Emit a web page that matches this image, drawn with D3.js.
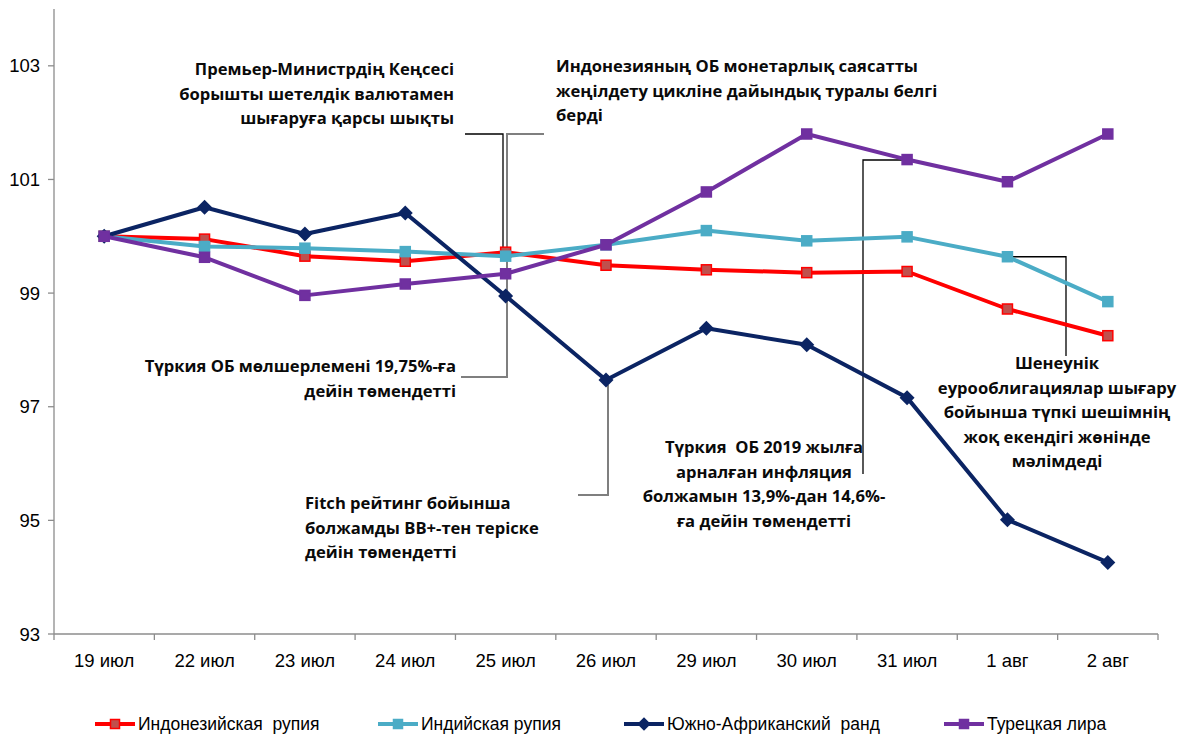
<!DOCTYPE html>
<html>
<head>
<meta charset="utf-8">
<script src="https://cdn.jsdelivr.net/npm/d3@7/dist/d3.min.js"></script>
<style>
  html, body { margin: 0; padding: 0; background: #fff; }
  svg { display: block; }
  .tick-label { font-family: "Liberation Sans", Arial, sans-serif; font-size: 18.5px; fill: #000; }
  .legend-label { font-family: "Liberation Sans", Arial, sans-serif; font-size: 17.5px; fill: #000; white-space: pre; }
  .note { font-family: "Open Sans", "Noto Sans", sans-serif; font-weight: 700; font-size: 16.6px; fill: #0a0a0a; white-space: pre; }
</style>
</head>
<body>
<svg id="chart" width="1188" height="740"></svg>
<script>
// ---------- data ----------
const categories = ["19 июл", "22 июл", "23 июл", "24 июл", "25 июл", "26 июл", "29 июл", "30 июл", "31 июл", "1 авг", "2 авг"];
const indonesianRupiah = [100, 99.95, 99.65, 99.56, 99.72, 99.49, 99.41, 99.36, 99.38, 98.72, 98.25];
const indianRupee      = [100, 99.82, 99.79, 99.73, 99.65, 99.85, 100.10, 99.92, 99.99, 99.64, 98.85];
const southAfricanRand = [100, 100.51, 100.04, 100.41, 98.95, 97.47, 98.38, 98.09, 97.16, 95.01, 94.26];
const turkishLira      = [100, 99.63, 98.96, 99.16, 99.34, 99.85, 100.78, 101.80, 101.35, 100.96, 101.80];
const seriesNames = ["Индонезийская  рупия", "Индийская рупия", "Южно-Африканский  ранд", "Турецкая лира"];
const yTicks = [93, 95, 97, 99, 101, 103];

const notes = [
  { lines: ["Премьер-Министрдің Кеңсесі", "борышты шетелдік валютамен", "шығаруға қарсы шықты"], anchor: "end" },
  { lines: ["Индонезияның ОБ монетарлық саясатты", "жеңілдету цикліне дайындық туралы белгі", "берді"], anchor: "start" },
  { lines: ["Түркия ОБ мөлшерлемені 19,75%-ға", "дейін төмендетті"], anchor: "end" },
  { lines: ["Fitch рейтинг бойынша", "болжамды BB+-тен теріске", "дейін төмендетті"], anchor: "start" },
  { lines: ["Түркия  ОБ 2019 жылға", "арналған инфляция", "болжамын 13,9%-дан 14,6%-", "ға дейін төмендетті"], anchor: "middle" },
  { lines: ["Шенеунік", "еурооблигациялар шығару", "бойынша түпкі шешімнің", "жоқ екендігі жөнінде", "мәлімдеді"], anchor: "middle" }
];

// ---------- layout ----------
const notePos = [
  { x: 454, y: 75 },
  { x: 556, y: 72 },
  { x: 456, y: 372 },
  { x: 305, y: 509 },
  { x: 764, y: 453 },
  { x: 1057, y: 369 }
];
const lineGap = 24.5;

const svg = d3.select("#chart");
const x = d3.scaleBand().domain(categories).range([54, 1158]).padding(0);
const y = d3.scaleLinear().domain([93, 104]).range([634, 9]);
const cx = c => x(c) + x.bandwidth() / 2;

const seriesData = [
  { name: seriesNames[0], values: indonesianRupiah, color: "#ff0000", fill: "#c0504d", marker: "square" },
  { name: seriesNames[1], values: indianRupee, color: "#4bacc6", fill: "#4bacc6", marker: "square" },
  { name: seriesNames[2], values: southAfricanRand, color: "#0b2463", fill: "#0b2463", marker: "diamond" },
  { name: seriesNames[3], values: turkishLira, color: "#7030a0", fill: "#7030a0", marker: "square" }
];

// axes
const axisColor = "#8c8c8c";
svg.append("line").attr("x1", 54).attr("x2", 54).attr("y1", y(104)).attr("y2", y(93)).attr("stroke", axisColor).attr("stroke-width", 1.3);
svg.append("line").attr("x1", 54).attr("x2", 1158).attr("y1", y(93)).attr("y2", y(93)).attr("stroke", axisColor).attr("stroke-width", 1.3);
yTicks.forEach(t => {
  svg.append("line").attr("x1", 48).attr("x2", 54).attr("y1", y(t)).attr("y2", y(t)).attr("stroke", axisColor).attr("stroke-width", 1.3);
  svg.append("text").attr("class", "tick-label").attr("x", 40).attr("y", y(t)).attr("dy", "0.36em").attr("text-anchor", "end").text(t);
});
const bounds = categories.map(c => x(c)).concat([x(categories[categories.length - 1]) + x.bandwidth()]);
bounds.forEach(b => {
  svg.append("line").attr("x1", b).attr("x2", b).attr("y1", y(93)).attr("y2", y(93) + 6).attr("stroke", axisColor).attr("stroke-width", 1.3);
});
categories.forEach(c => {
  svg.append("text").attr("class", "tick-label").attr("x", cx(c)).attr("y", 667).attr("text-anchor", "middle").text(c);
});

// callout lines (behind series)
const grey = "#7f7f7f";
const callouts = [
  { pts: [[544, 134], [507, 134], [507, 377], [461, 377]], color: grey, w: 2 },
  { pts: [[465, 134], [503, 134], [503, 247]], color: "#000", w: 1.3 },
  { pts: [[608, 385], [608, 495], [578, 495]], color: grey, w: 2 },
  { pts: [[905, 160], [863, 160], [863, 474]], color: "#000", w: 1.3 },
  { pts: [[cx(categories[9]), y(indianRupee[9])], [1066, y(indianRupee[9])], [1066, 356]], color: "#000", w: 1.3 }
];
callouts.forEach(c => {
  svg.append("path").attr("d", d3.line()(c.pts)).attr("fill", "none").attr("stroke", c.color).attr("stroke-width", c.w);
});

// series
const line = d3.line().x((d, i) => cx(categories[i])).y(d => y(d));
function drawMarker(g, type, px, py, fill, stroke, size) {
  if (type === "square") {
    g.append("rect").attr("x", px - size / 2).attr("y", py - size / 2).attr("width", size).attr("height", size)
      .attr("fill", fill).attr("stroke", stroke).attr("stroke-width", 1.5);
  } else {
    const s = size * 0.75;
    g.append("path").attr("d", `M${px},${py - s}L${px + s},${py}L${px},${py + s}L${px - s},${py}Z`).attr("fill", fill);
  }
}
seriesData.forEach(s => {
  const g = svg.append("g");
  g.append("path").attr("d", line(s.values)).attr("fill", "none").attr("stroke", s.color).attr("stroke-width", 4).attr("stroke-linejoin", "round");
  s.values.forEach((v, i) => drawMarker(g, s.marker, cx(categories[i]), y(v), s.fill, s.color, 10));
});

// annotations
notes.forEach((n, k) => {
  const t = svg.append("text").attr("class", "note").attr("text-anchor", n.anchor);
  n.lines.forEach((l, i) => {
    t.append("tspan").attr("x", notePos[k].x).attr("y", notePos[k].y + i * lineGap).text(l);
  });
});

// legend
const legendX = [95, 378, 624, 944];
seriesData.forEach((s, i) => {
  const g = svg.append("g");
  const lx = legendX[i], ly = 724;
  g.append("line").attr("x1", lx).attr("x2", lx + 40).attr("y1", ly).attr("y2", ly).attr("stroke", s.color).attr("stroke-width", 4);
  drawMarker(g, s.marker, lx + 20, ly, s.fill, s.color, 9);
  g.append("text").attr("class", "legend-label").attr("x", lx + 43).attr("y", ly).attr("dy", "0.36em").text(s.name);
});
</script>
</body>
</html>
